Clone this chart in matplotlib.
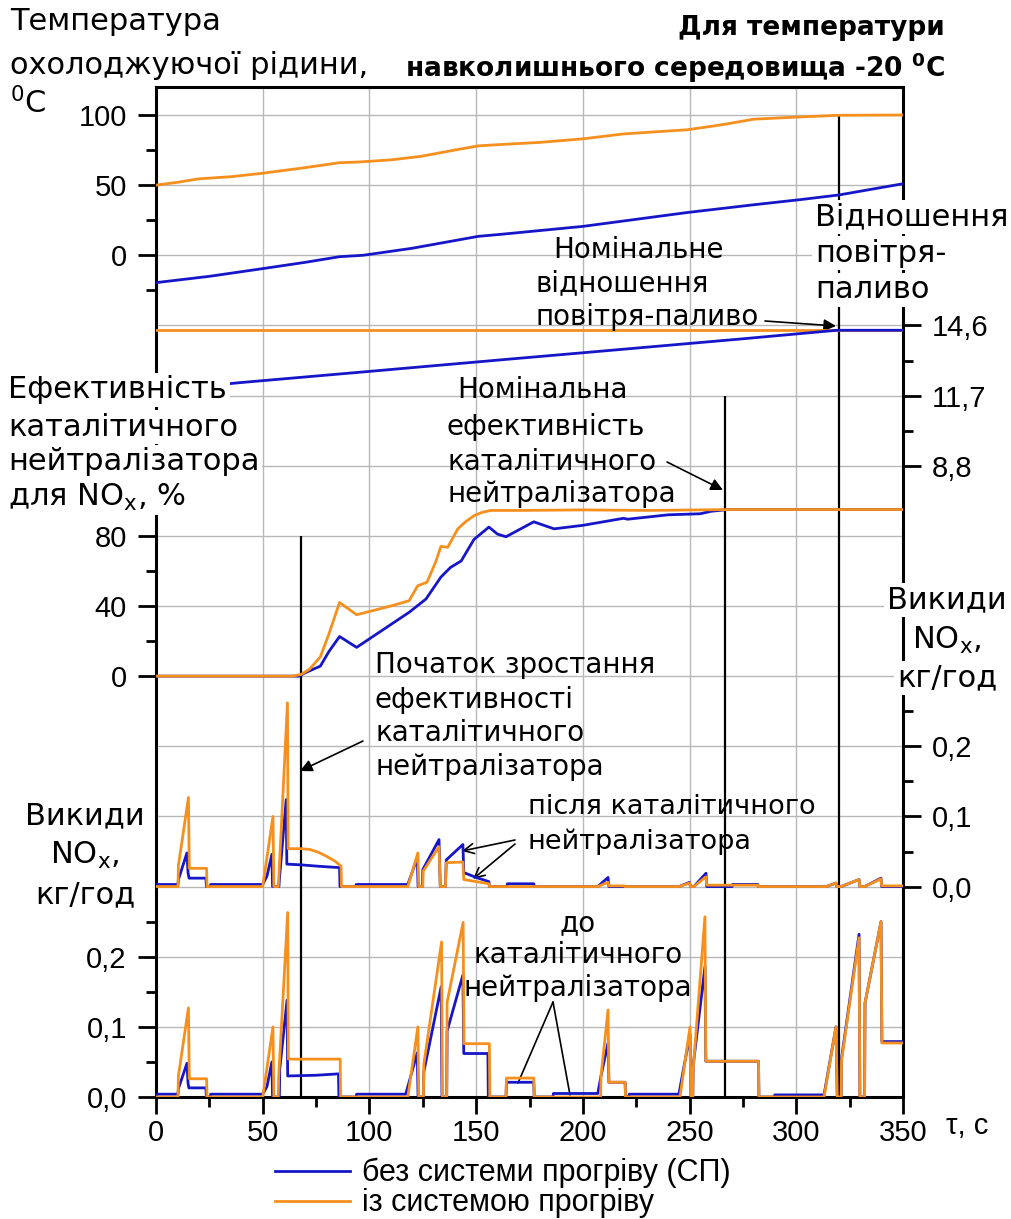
import matplotlib

matplotlib.use("Agg")
import matplotlib.pyplot as plt
from matplotlib.lines import Line2D

W, H = 1011, 1219
BLUE = "#1616c8"
ORANGE = "#f5901e"
GRID = "#b8b8b8"

# --- coolant temperature, deg C
temp_t = [0, 10, 20, 35, 50, 70, 86, 95, 110, 124, 140, 151, 162, 180, 200, 219, 249, 265, 280, 300, 320, 350]
temp_orange = [50, 52, 54.5, 56, 58.5, 62.5, 66, 66.5, 68, 70.5, 75, 78, 79, 80.5, 83, 86.5, 89.5, 93, 97, 98.5, 99.8, 100]
temp_blue_t = [0, 25, 50, 70, 86, 97, 120, 151, 162, 200, 249, 280, 302, 320, 350]
temp_blue = [-19.5, -15, -9.5, -5, -1, 0, 5, 13.5, 15, 20.6, 30.5, 36, 39.7, 43, 51]

# --- air-fuel ratio
af_t = [0, 40, 100, 162, 200, 274, 319, 350]
af_blue = [11.9, 12.24, 12.7, 13.18, 13.47, 14.04, 14.4, 14.4]
af_orange_t = [0, 350]
af_orange = [14.4, 14.4]

# --- catalyst NOx efficiency, %
eff_orange_t = [0, 64, 68, 72, 77, 81, 86, 94, 110, 118.6, 122.6, 127, 131, 133.5, 136.7, 141.4, 145, 149,
                153, 157, 170, 200, 230, 270, 300, 350]
eff_orange = [0, 0, 1, 4, 11, 24, 42, 35, 40, 43, 51.5, 53.6, 65, 74, 73.5, 84, 88, 91.5,
              93.5, 94.5, 94.5, 94.8, 94.5, 95, 95, 95]
eff_blue_t = [0, 67, 70, 77, 81, 86, 94, 118.6, 126.5, 133.5, 138, 143, 149, 156, 160, 164, 177, 186.5,
              200, 219, 221, 240, 255, 260, 268, 350]
eff_blue = [0, 0, 2, 5.7, 14, 22.6, 16.4, 36.4, 44, 56.5, 62, 65.7, 78, 85, 81, 79.5, 88, 84,
            86, 90, 89.5, 92, 92.6, 94, 95, 95]

# --- NOx after catalyst, kg/h
after_blue_t = [0, 10.3, 10.5, 14.5, 15.0, 15.5, 23.4, 23.6, 25.5, 25.6, 50, 52, 54.3, 54.6, 57.6, 57.8,
                61.0, 61.3, 67.7, 76, 86, 86.2, 93.7, 93.8, 118, 122.4, 122.8, 124.8, 125, 132.6, 133.2,
                135.6, 136, 143.8, 144.2, 150, 156, 156.2, 164.5, 164.6, 177, 177.2, 207, 211.8, 212.2,
                245, 250, 250.4, 252, 257.7, 258, 270, 270.1, 282, 282.2, 314, 318.6, 319, 321, 329.4,
                329.8, 332, 339.7, 340, 350]
after_blue = [0.003, 0.003, 0.01, 0.048, 0.02, 0.012, 0.012, 0, 0, 0.003, 0.003, 0.015, 0.046, 0, 0, 0.01,
              0.124, 0.032, 0.031, 0.029, 0.027, 0, 0, 0.003, 0.003, 0.041, 0, 0, 0.024, 0.067, 0,
              0, 0.038, 0.060, 0.02, 0.013, 0.007, 0, 0, 0.004, 0.004, 0, 0, 0.013, 0,
              0, 0.006, 0, 0, 0.019, 0, 0, 0.003, 0.003, 0, 0, 0.005, 0, 0, 0.010,
              0, 0, 0.012, 0, 0]
after_orange_t = [0, 10.3, 10.5, 15.2, 15.6, 23.7, 23.9, 50, 54.8, 55.2, 57.3, 57.5, 61.6, 61.9, 67.7, 72,
                  76, 80, 84, 86.7, 86.9, 118, 122.7, 123.1, 125, 125.2, 132.6, 133.2, 135.6, 136, 143.8,
                  144.2, 156, 156.2, 207, 211.8, 212.2, 219.5, 219.7, 245, 250, 250.4, 252, 257.7, 258,
                  282, 282.2, 314, 318.6, 319, 321, 329.4, 329.8, 332, 339.7, 340, 350]
after_orange = [0, 0, 0.03, 0.127, 0.026, 0.026, 0, 0, 0.10, 0, 0, 0.01, 0.262, 0.054, 0.054, 0.053,
                0.049, 0.043, 0.036, 0.029, 0, 0, 0.048, 0, 0, 0.022, 0.057, 0, 0, 0.034, 0.035,
                0.01, 0.004, 0, 0, 0.006, 0.001, 0.001, 0, 0, 0.005, 0, 0, 0.014, 0.002,
                0.002, 0, 0, 0.005, 0, 0, 0.010, 0, 0, 0.011, 0.001, 0.001]

# --- NOx before catalyst, kg/h
before_blue_t = [0, 10.3, 10.5, 14.5, 15.0, 15.4, 23.4, 23.6, 25.5, 25.6, 50, 52, 54.3, 54.6, 57.8, 58,
                 61.4, 61.7, 75, 85.5, 85.7, 93.8, 94, 117, 122.4, 122.8, 125.3, 125.5, 133.6, 134,
                 136.2, 136.4, 143.8, 144.2, 155.5, 155.7, 164, 164.2, 177, 177.2, 186, 186.2, 207,
                 208.5, 211.8, 212.2, 219.8, 220, 221.5, 221.7, 245, 250.2, 250.6, 251.5, 251.7, 257.2,
                 257.6, 282.3, 282.5, 289.7, 289.9, 313, 318.6, 319.2, 321, 321.2, 329.4, 329.8, 332,
                 332.2, 339.7, 340.1, 350]
before_blue = [0.004, 0.004, 0.012, 0.048, 0.02, 0.013, 0.013, 0, 0, 0.004, 0.004, 0.015, 0.05, 0, 0, 0.04,
               0.138, 0.03, 0.031, 0.033, 0, 0, 0.004, 0.004, 0.063, 0, 0, 0.036, 0.157, 0,
               0, 0.094, 0.174, 0.062, 0.062, 0, 0, 0.021, 0.021, 0, 0, 0.005, 0.005,
               0.03, 0.077, 0.021, 0.021, 0, 0, 0.004, 0.004, 0.09, 0, 0, 0.045, 0.186,
               0.051, 0.051, 0, 0, 0.003, 0.003, 0.1, 0, 0, 0.055, 0.232, 0, 0,
               0.134, 0.25, 0.079, 0.079]
before_orange_t = [0, 10.3, 10.5, 15.2, 15.6, 23.7, 23.9, 50, 54.8, 55.2, 57.3, 57.5, 61.7, 62, 86.3, 86.5,
                   118, 122.7, 123.1, 125.3, 125.5, 133.8, 134.2, 136.2, 136.4, 143.9, 144.3, 156.2, 156.4,
                   164, 164.2, 177, 177.2, 208.3, 208.5, 211.8, 212.2, 219.8, 220, 245.5, 250.2, 250.6,
                   251.5, 251.7, 257.2, 257.6, 282.3, 282.5, 313, 318.6, 319.2, 321, 321.2, 329.4, 329.8,
                   332, 332.2, 339.7, 340.1, 350]
before_orange = [0, 0, 0.03, 0.127, 0.026, 0.026, 0, 0, 0.10, 0, 0, 0.03, 0.263, 0.054, 0.054, 0,
                 0, 0.10, 0, 0, 0.047, 0.221, 0, 0, 0.135, 0.249, 0.076, 0.076, 0,
                 0, 0.027, 0.027, 0, 0, 0.03, 0.124, 0.021, 0.021, 0, 0, 0.10, 0,
                 0, 0.04, 0.257, 0.051, 0.051, 0, 0, 0.10, 0, 0, 0.052, 0.227, 0,
                 0, 0.134, 0.25, 0.077, 0.077]

# time of the three reference events and the grid row each line starts from
marker_t = [68, 266.5, 320]
marker_row = [6, 4, 0]

legend_labels = ["без системи прогріву (СП)", "із системою прогріву"]

plt.rcParams.update({
    "font.family": ["Liberation Sans", "DejaVu Sans"],
    "font.size": 21,
    "mathtext.fontset": "dejavusans",
})

LEFT, RIGHT, TOP, BOT = 156, 903, 87, 1097
ROW = (BOT - 115) / 14  # px between horizontal grid lines
NROWS = 14

fig = plt.figure(figsize=(W / 100, H / 100), dpi=100)
fig.patch.set_facecolor("white")


def fx(x):
    return x / W


def fy(y):
    return 1 - y / H


ax = fig.add_axes([fx(LEFT), fy(BOT), (RIGHT - LEFT) / W, (BOT - TOP) / H])
ax.set_xlim(0, 350)
ax.set_ylim(0, (BOT - TOP) / ROW)
ax.set_yticks(range(NROWS + 1))
ax.tick_params(axis="y", which="both", left=False, labelleft=False)
ax.set_xticks(range(0, 351, 50))
ax.set_xticks(range(25, 350, 50), minor=True)
ax.tick_params(axis="x", which="major", direction="out", length=12, width=2, labelsize=21, pad=4)
ax.tick_params(axis="x", which="minor", direction="out", length=7, width=2)
ax.grid(True, which="major", color=GRID, lw=1)
for s in ax.spines.values():
    s.set_linewidth(2.2)
ax.vlines(marker_t, 0, [NROWS - r for r in marker_row], color="black", lw=1.6, zorder=4)


def panel(v_top, row_top, v_bot, row_bot, side, major, minor, labels):
    p = fig.add_axes(ax.get_position())
    p.patch.set_visible(False)
    for s in p.spines.values():
        s.set_visible(False)
    p.set_xlim(0, 350)
    p.xaxis.set_visible(False)
    px_top = 115 + row_top * ROW
    px_bot = 115 + row_bot * ROW
    k = (px_bot - px_top) / (v_top - v_bot)
    p.set_ylim(v_bot - (BOT - px_bot) / k, v_top + (px_top - TOP) / k)
    p.yaxis.set_ticks_position(side)
    p.set_yticks(major)
    p.set_yticklabels(labels)
    p.set_yticks(minor, minor=True)
    p.tick_params(axis="y", which="major", direction="out", length=13, width=2, labelsize=21, pad=8)
    p.tick_params(axis="y", which="minor", direction="out", length=7, width=2)
    return p


p_temp = panel(100, 0, 0, 2, "left", [0, 50, 100], [-25, 25, 75], ["0", "50", "100"])
p_af = panel(14.6, 3, 8.8, 5, "right", [8.8, 11.7, 14.6], [10.25, 13.15], ["8,8", "11,7", "14,6"])
p_eff = panel(80, 6, 0, 8, "left", [0, 40, 80], [20, 60], ["0", "40", "80"])
p_after = panel(0.2, 9, 0.0, 11, "right", [0, 0.1, 0.2], [0.05, 0.15, 0.25], ["0,0", "0,1", "0,2"])
p_before = panel(0.2, 12, 0.0, 14, "left", [0, 0.1, 0.2], [0.05, 0.15, 0.25], ["0,0", "0,1", "0,2"])

LW = 2
p_temp.plot(temp_blue_t, temp_blue, color=BLUE, lw=LW)
p_temp.plot(temp_t, temp_orange, color=ORANGE, lw=LW)
p_af.plot(af_orange_t, af_orange, color=ORANGE, lw=LW)
p_af.plot(af_t, af_blue, color=BLUE, lw=LW)
p_eff.plot(eff_blue_t, eff_blue, color=BLUE, lw=LW)
p_eff.plot(eff_orange_t, eff_orange, color=ORANGE, lw=LW)
p_after.plot(after_blue_t, after_blue, color=BLUE, lw=LW)
p_after.plot(after_orange_t, after_orange, color=ORANGE, lw=LW)
p_before.plot(before_blue_t, before_blue, color=BLUE, lw=LW)
p_before.plot(before_orange_t, before_orange, color=ORANGE, lw=LW)

LABEL = dict(family="DejaVu Sans", fontsize=22, va="center")
NOTE = 20
MASK = dict(facecolor="white", edgecolor="none", pad=2)


def put(x, y, s, **kw):
    opts = dict(LABEL)
    opts.update(kw)
    return fig.text(fx(x), fy(y), s, **opts)


def arrow(x0, y0, x1, y1, style="-|>"):
    ax.annotate("", xy=(fx(x1), fy(y1)), xytext=(fx(x0), fy(y0)),
                xycoords="figure fraction", textcoords="figure fraction",
                arrowprops=dict(arrowstyle=style, color="black", lw=1.2,
                                shrinkA=0, shrinkB=0, mutation_scale=18))


# left axis titles
put(10, 22, "Температура")
put(10, 65, "охолоджуючої рідини,")
put(10, 103, r"$^0$C")
for y, s in zip([390, 427, 462, 497],
                ["Ефективність", "каталітичного", "нейтралізатора", r"для NO$_\mathrm{x}$, %"]):
    put(8, y, s, bbox=MASK)
for y, s in zip([816, 855, 895], ["Викиди", r"NO$_\mathrm{x}$,", "кг/год"]):
    put(85, y, s, ha="center")

# right axis titles
for y, s in zip([217, 253, 290], ["Відношення", "повітря-", "паливо"]):
    put(815, y, s, bbox=MASK)
for y, s in zip([600, 640, 678], ["Викиди", r"NO$_\mathrm{x}$,", "кг/год"]):
    put(947, y, s, ha="center", bbox=MASK)

# title
put(945, 28, "Для температури", ha="right", fontsize=19, weight="bold")
put(945, 68, r"навколишнього середовища -20 $^\mathbf{0}$C", ha="right", fontsize=19, weight="bold")

# annotations
put(553, 250, "Номінальне", fontsize=NOTE)
put(535, 283, "відношення", fontsize=NOTE)
put(535, 317, "повітря-паливо", fontsize=NOTE)
arrow(765, 321, 836, 326)

put(457, 390, "Номінальна", fontsize=NOTE)
for y, s in zip([427, 462, 494], ["ефективність", "каталітичного", "нейтралізатора"]):
    put(447, y, s, fontsize=NOTE)
arrow(667, 462, 723, 490)

for y, s in zip([665, 700, 733, 767],
                ["Початок зростання", "ефективності", "каталітичного", "нейтралізатора"]):
    put(375, y, s, fontsize=NOTE)
arrow(363, 741, 300, 771)

put(528, 807, "після каталітичного", fontsize=19.5)
put(528, 842, "нейтралізатора", fontsize=19.5)
arrow(515, 840, 462, 851, "->")
arrow(515, 844, 473, 879, "->")

for y, s in zip([923, 955, 988], ["до", "каталітичного", "нейтралізатора"]):
    put(578, y, s, ha="center", fontsize=NOTE)
arrow(553, 1002, 518, 1083, "-")
arrow(553, 1002, 570, 1095, "-")

put(946, 1126, "τ, с", family="Liberation Sans", fontsize=21)

handles = [Line2D([], [], color=BLUE, lw=LW), Line2D([], [], color=ORANGE, lw=LW)]
fig.legend(handles, legend_labels, loc="upper left", bbox_to_anchor=(fx(275), fy(1158)),
           frameon=False, fontsize=22, handlelength=2.45, handletextpad=0.4,
           labelspacing=0.0, borderpad=0, borderaxespad=0)

fig.savefig("out.png", dpi=100, facecolor="white")
